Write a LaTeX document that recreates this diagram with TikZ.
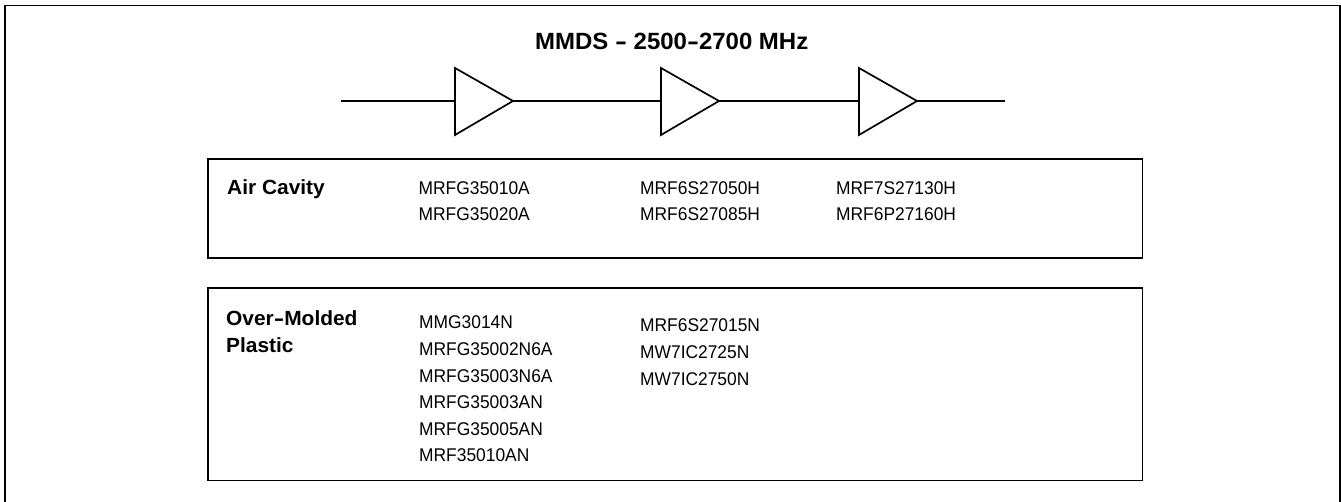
\documentclass[tikz,border=0pt]{standalone}
\usepackage{fontspec}
\usepackage{graphicx}
\setmainfont{Liberation Sans}
\newfontfamily\partfont[FakeStretch=0.945]{Liberation Sans}
\newfontfamily\headfont[FakeStretch=1.02]{Liberation Sans}
\newcommand{\widehy}{\scalebox{1.5}[1]{-}}
\begin{document}
\begin{tikzpicture}[x=1pt,y=-1pt,
  wire/.style={line width=1.7pt,black},
  boxline/.style={line width=1.7pt,black},
  amp/.style={line width=1.7pt,black,line join=miter},
  part/.style={inner sep=0pt,anchor=base west,font=\partfont\fontsize{18.4}{25}\selectfont},
  head/.style={inner sep=0pt,anchor=base west,font=\headfont\fontsize{20.5}{26.5}\selectfont\bfseries}]
\useasboundingbox (0,0) rectangle (1341,502);
\draw[boxline] (4.7,502) -- (4.7,5.5) -- (1340,5.5) -- (1340,502);
\node[inner sep=0pt,anchor=base west,font=\headfont\fontsize{23.5}{28}\selectfont\bfseries] (title) at (535,50) {MMDS \widehy{} 2500\widehy{}2700 MHz};
% amplifiers
\foreach \n/\l/\r in {1/455/513,2/661/719,3/859/917}{
  \coordinate (a\n) at (\l,101);
  \coordinate (b\n) at (\r,101);
  \draw[amp] (\l,68) -- (b\n) -- (\l,135) -- cycle;
}
\coordinate (in) at (341,101);
\coordinate (out) at (1005,101);
\draw[wire] (in) -- (a1);
\draw[wire] (b1) -- (a2);
\draw[wire] (b2) -- (a3);
\draw[wire] (b3) -- (out);
% boxes
\node[draw,boxline,inner sep=0pt,minimum width=934.5pt,minimum height=98.5pt,anchor=north west] (air) at (207,158.5) {};
\node[draw,boxline,inner sep=0pt,minimum width=934.5pt,minimum height=192.5pt,anchor=north west] (plastic) at (207,287) {};
% air cavity
\node[head] (h1) at (227,194.3) {Air Cavity};
\node[part] (p1) at (418.5,194.3) {MRFG35010A};
\node[part] (p2) at (418.5,220.3) {MRFG35020A};
\node[part] (p3) at (640,194.3) {MRF6S27050H};
\node[part] (p4) at (640,220.3) {MRF6S27085H};
\node[part] (p5) at (836,194.3) {MRF7S27130H};
\node[part] (p6) at (836,220.3) {MRF6P27160H};
% plastic
\node[head] (h2) at (226,326) {Over\widehy{}Molded};
\node[head] (h3) at (226,352.7) {Plastic};
\foreach \i/\y/\t in {1/329/MMG3014N,2/355.5/MRFG35002N6A,3/382/MRFG35003N6A,4/408.5/MRFG35003AN,5/435/MRFG35005AN,6/461.5/MRF35010AN}
  \node[part] (q\i) at (419,\y) {\t};
\foreach \i/\y/\t in {1/332/MRF6S27015N,2/358.5/MW7IC2725N,3/385/MW7IC2750N}
  \node[part] (r\i) at (640,\y) {\t};
\end{tikzpicture}
\end{document}
